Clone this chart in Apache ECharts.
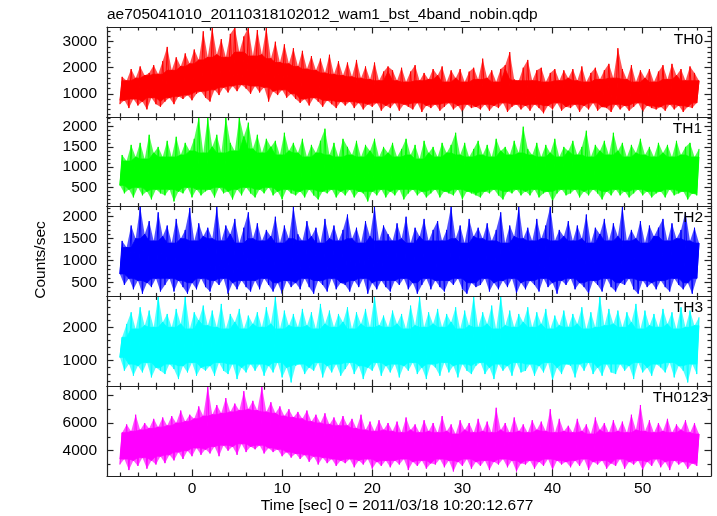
<!DOCTYPE html>
<html>
<head>
<meta charset="utf-8">
<script src="https://cdn.jsdelivr.net/npm/echarts@6/dist/echarts.min.js"></script>
<style>html,body{margin:0;padding:0;background:#fff}#c{width:717px;height:516px}</style>
</head>
<body>
<div id="c"></div>
<script>
// ---- data (per 0.5 s bin: low and high excursions) ----
const binStart = -8;      // seconds, first bin
const binStep = 0.5;      // seconds per bin
const panelNames = ['TH0', 'TH1', 'TH2', 'TH3', 'TH0123'];
const xMajorTicks = [0, 10, 20, 30, 40, 50];
const xMinorTicks = [-8, -6, -4, -2, 2, 4, 6, 8, 12, 14, 16, 18, 22, 24, 26, 28, 32, 34, 36, 38, 42, 44, 46, 48, 52, 54, 56];

const th0Hi = [1650,1500,1950,1600,2050,1700,1800,2100,1750,2250,
  2800,1900,2400,2050,2550,2150,2700,2300,3400,2400,
  3550,2500,3100,2400,3300,3550,2600,3200,3550,2450,
  3450,2500,3550,2350,3000,2200,2900,2150,2750,2050,
  2650,1950,2450,1900,2350,1800,2500,1750,2250,1700,
  2200,1650,2300,1600,2050,1550,2200,1500,1850,2050,
  1900,1500,2000,1450,1850,2100,1500,1800,1550,1950,
  1700,2050,1450,1900,1600,1950,1450,1850,2000,1550,
  2350,1600,1900,1450,1950,2100,2600,1550,1500,2000,
  2300,1500,1900,2000,1450,1800,1950,1500,1900,1600,
  1950,1500,2050,1450,1800,2000,1550,1900,2150,1600,
  2750,1950,1550,2100,1450,1900,1600,1950,1450,1850,
  2100,1550,2150,1700,1950,1500,2050,1800,1500];
const th0Lo = [600,750,450,800,550,700,400,850,600,500,
  700,850,600,900,800,950,750,1000,1100,850,
  700,1150,950,1250,1050,1300,1100,1350,1200,1000,
  1300,1050,1250,700,1100,950,1150,850,1000,800,
  650,800,550,850,700,500,750,600,450,700,
  550,700,450,650,400,600,500,650,350,550,
  450,650,350,600,500,400,650,300,550,450,
  600,350,500,650,400,550,300,600,450,500,
  400,600,350,550,450,650,300,500,600,400,
  550,350,600,450,250,550,400,650,350,500,
  450,600,300,550,400,650,350,500,450,300,
  600,400,550,350,500,650,300,550,450,400,
  500,350,600,400,550,300,500,450,650];

const th1Hi = [1300,1150,1550,1250,1600,1200,1800,1350,1500,1250,
  1650,1250,1750,1300,1600,1400,1700,2240,1350,2240,
  1500,1800,1350,2240,1600,1400,2240,1750,2100,1450,
  1800,1350,1700,1500,1650,1300,1850,1400,1600,1350,
  1700,1250,1550,1350,1650,1950,1300,1600,1250,1700,
  1500,1300,1650,1250,1550,1400,1700,1250,1500,1350,
  1600,1250,1450,1700,1300,1550,1200,1650,1350,1500,
  1250,1600,1350,1550,1850,1300,1600,1250,1450,1650,
  1300,1550,1250,1700,1400,1500,1300,1650,1350,2000,
  1450,1300,1600,1250,1550,1350,1700,1250,1500,1400,
  1650,1300,1500,1900,1250,1550,1400,1650,1300,1850,
  1400,1600,1250,1550,1350,1700,1300,1500,1250,1600,
  1350,1550,1250,1650,1300,1500,1600,1250,1450];
const th1Lo = [550,350,450,250,500,300,400,200,450,350,
  300,450,150,400,350,500,250,450,300,400,
  450,250,500,350,400,200,450,300,500,350,
  250,450,350,500,300,400,200,450,350,300,
  400,250,450,300,200,400,350,450,250,400,
  300,450,250,400,350,150,400,300,450,250,
  400,300,450,200,350,450,300,400,250,350,
  450,250,400,350,300,450,200,400,350,300,
  250,400,350,450,300,200,400,350,450,300,
  400,300,450,250,350,400,150,350,450,300,
  350,450,250,400,300,450,350,200,400,300,
  450,300,400,250,350,450,300,400,250,350,
  400,250,450,300,350,400,200,350,300];

const th2Hi = [1450,1300,1800,1500,2230,1600,1900,1450,2100,1550,
  1800,1400,1950,1500,1700,2200,1450,1850,1550,1750,
  1500,2230,1450,1800,1600,1950,1400,1750,2100,1500,
  1850,1450,1700,1550,2000,1400,1800,1500,2230,1600,
  1450,1900,1550,1750,1400,1950,1500,1800,1450,1700,
  2050,1500,1750,1400,1900,1550,2230,1450,1800,1600,
  1450,1850,1500,2000,1400,1750,1550,1950,1450,1700,
  1900,1450,1700,2230,1500,1800,1400,1950,1550,1750,
  1500,1850,1450,1700,2100,1400,1800,1550,2230,1500,
  1750,1450,1950,1500,1800,2230,1450,1700,1550,1900,
  1450,1800,1500,2050,1400,1750,1600,1950,1450,1850,
  1550,2230,1450,1700,1500,1900,1400,1800,1550,1750,
  1950,1450,1850,1500,1700,2100,1450,1750,1400];
const th2Lo = [700,450,600,350,550,250,500,400,600,300,
  450,600,300,550,400,250,500,350,600,400,
  300,550,450,600,250,500,350,550,400,300,
  550,350,600,450,300,500,250,550,400,500,
  350,600,400,250,550,450,300,600,350,500,
  450,300,550,400,600,250,500,350,550,400,
  300,550,450,600,350,500,250,450,600,350,
  550,400,300,550,450,600,350,250,500,400,
  450,600,300,500,350,550,400,600,250,500,
  350,550,450,300,600,400,500,250,550,450,
  600,350,500,400,250,550,450,300,600,400,
  300,500,450,600,350,250,550,400,500,350,
  550,400,300,600,450,350,500,250,600];

const th3Hi = [1700,2100,2450,1950,2600,2050,2500,2000,2940,2150,
  2400,2000,2550,2100,2940,1950,2450,2200,2650,2050,
  2500,2000,2700,1950,2400,2150,2550,1950,2350,2100,
  2450,2000,2600,2100,2940,1950,2500,2050,2400,2000,
  2550,2050,2450,1950,2700,2100,2500,2000,2400,2150,
  2600,1950,2450,2100,2550,2000,2940,2050,2350,2000,
  2500,2100,2400,1950,2650,2050,2940,2000,2450,2100,
  2550,2000,2400,2150,2600,1950,2500,2050,2940,2000,
  2450,2100,2650,1950,2940,2050,2500,2000,2400,2150,
  2600,2000,2450,2100,2550,1950,2350,2050,2500,2000,
  2400,2100,2600,1950,2450,2000,2940,2050,2550,2100,
  2500,2000,2450,2150,2700,1950,2500,2050,2400,2000,
  2550,2100,2450,1950,2600,2000,2500,2050,2300];
const th3Lo = [1100,700,900,550,850,650,950,500,800,700,
  600,900,750,450,850,650,950,550,800,700,
  850,550,950,700,600,900,450,800,650,900,
  700,900,550,850,650,950,500,800,350,850,
  900,600,800,700,950,500,850,650,900,550,
  750,950,600,850,450,800,700,950,550,850,
  650,900,500,850,700,950,600,800,450,900,
  800,550,950,650,850,500,900,700,600,850,
  950,600,800,450,900,700,850,550,950,650,
  700,900,550,850,650,950,400,800,600,900,
  850,500,900,700,950,600,800,550,900,650,
  600,900,700,850,450,950,650,800,550,900,
  800,650,950,500,850,700,350,900,600];

const th0123Hi = [5300,5900,5400,6600,5500,6000,5600,6300,5700,6400,
  5800,6500,6000,6900,6100,6600,6300,7200,6500,8670,
  6600,7300,6700,7800,6800,7400,6900,8300,7000,7600,
  6900,8670,6800,7500,6700,7200,6500,7000,6400,6800,
  6300,6900,6100,6600,6000,6700,5900,6400,5800,6500,
  5800,6300,5600,6600,5500,6100,5400,6200,5500,6000,
  5400,6100,5300,6400,5500,5900,5300,6200,5400,6000,
  5300,6500,5400,5900,5200,6200,5500,6000,5300,6300,
  5400,6100,5300,7100,5500,6000,5300,6400,5400,5900,
  5300,6200,5500,6100,5400,7000,5300,6300,5400,5800,
  5300,6300,5400,5900,5200,6400,5500,6000,5300,6200,
  5400,6100,5300,6600,5500,7300,5400,6200,5300,6000,
  5400,6300,5300,5900,5500,6200,5300,6000,5200];
const th0123Lo = [3000,3400,2600,3300,2900,3500,2700,3300,3000,3600,
  3100,3700,3300,3900,3400,4000,3600,4200,3700,4100,
  3800,4300,3600,4400,4000,4300,3700,4500,3900,4300,
  4100,4400,3800,4200,3900,4100,3600,3900,3500,3800,
  3400,3700,3200,3600,3000,3500,3100,3400,2900,3300,
  3100,3400,2800,3300,3000,3400,2700,3200,2900,3300,
  2800,3300,3000,3400,2600,3200,2900,3300,2700,3100,
  3000,3400,2800,3300,2500,3200,2900,3400,2700,3200,
  2900,3300,2600,3200,3000,3400,2800,3300,2500,3100,
  3000,3300,2700,3200,2900,3400,2600,3300,3000,3200,
  2800,3300,2900,3400,2600,3200,3000,3300,2700,3100,
  2900,3400,2700,3200,3000,3300,2600,3200,2900,3400,
  2800,3200,2600,3300,3000,3200,2700,3100,2900];

// tick values per panel
const yMajor = [[1000,2000,3000],[500,1000,1500,2000],[500,1000,1500,2000],[1000,2000],[4000,6000,8000]];
const yMinor = [
  [200,400,600,800,1200,1400,1600,1800,2200,2400,2600,2800,3200,3400],
  [100,200,300,400,600,700,800,900,1100,1200,1300,1400,1600,1700,1800,1900,2100,2200],
  [300,400,600,700,800,900,1100,1200,1300,1400,1600,1700,1800,1900,2100,2200],
  [400,600,800,1200,1400,1600,1800,2200,2400,2600,2800],
  [3000,5000,7000]
];
const yRange = [[115,3565],[22,2245],[189,2230],[237,2925],[2173,8657]];

// ---- layout / style ----
const FONT = '"Liberation Sans", Arial, Helvetica, sans-serif';
const colors = ['#ff0000', '#00ff00', '#0000ff', '#00ffff', '#ff00ff'];
const xMin = -9.43, xMax = 57.58;
const gridLeft = 107, gridWidth = 604, gridTop0 = 27, gridH = 89.8;
const frame = { color: '#222', width: 1.2 };
const seriesHi = [th0Hi, th1Hi, th2Hi, th3Hi, th0123Hi];
const seriesLo = [th0Lo, th1Lo, th2Lo, th3Lo, th0123Lo];
const fmt = v => String(v);

const grids = [], xAxes = [], yAxes = [], series = [];
for (let i = 0; i < 5; i++) {
  grids.push({ left: gridLeft, top: gridTop0 + i * gridH, width: gridWidth, height: gridH, containLabel: false });
  const xBase = { gridIndex: i, type: 'value', min: xMin, max: xMax, splitLine: { show: false }, z: 10 };
  [['bottom', xMajorTicks, 6.5, true], ['bottom', xMinorTicks, 3.5, false], ['top', xMajorTicks, 6.5, true], ['top', xMinorTicks, 3.5, false]].forEach(([pos, vals, len, line], k) => {
    const showLab = (i === 4 && k === 0);
    xAxes.push(Object.assign({}, xBase, {
      position: pos, offset: 0,
      axisLine: { show: line, onZero: false, lineStyle: frame },
      axisTick: { show: true, inside: true, length: len, customValues: vals, lineStyle: frame },
      axisLabel: showLab ? { show: true, customValues: xMajorTicks, formatter: fmt, margin: 5, fontSize: 15.5, color: '#000', fontFamily: FONT } : { show: false }
    }));
  });
  const yBase = { gridIndex: i, type: 'value', min: yRange[i][0], max: yRange[i][1], splitLine: { show: false }, z: 10 };
  [['left', yMajor[i], 6.5, true], ['left', yMinor[i], 3.5, false], ['right', yMajor[i], 6.5, true], ['right', yMinor[i], 3.5, false]].forEach(([pos, vals, len, line], k) => {
    yAxes.push(Object.assign({}, yBase, {
      position: pos, offset: 0,
      axisLine: { show: line, onZero: false, lineStyle: frame },
      axisTick: { show: true, inside: true, length: len, customValues: vals, lineStyle: frame },
      axisLabel: k === 0 ? { show: true, customValues: yMajor[i], formatter: fmt, margin: 10, fontSize: 15.5, color: '#000', fontFamily: FONT } : { show: false }
    }));
  });
  const hi = seriesHi[i], lo = seriesLo[i];
  const N = hi.length;
  // one data item per bin: [time of low, low, time of high, high]
  const bins = hi.map((h, k) => {
    const t = binStart + k * binStep;
    return [t, lo[k], t + binStep / 2, h];
  });
  // solid core of the band: the region every neighbouring excursion covers
  const coreTop = hi.map((h, k) => Math.min(h, hi[Math.max(k - 1, 0)], hi[Math.min(k + 1, N - 1)]));
  const coreBot = lo.map((l, k) => Math.max(l, lo[Math.max(k - 1, 0)], lo[Math.min(k + 1, N - 1)]));
  const col = colors[i];
  series.push({
    type: 'custom', xAxisIndex: i * 4, yAxisIndex: i * 4, data: bins,
    animation: false, silent: true, clip: true,
    encode: { x: [0, 2], y: [1, 3] },
    renderItem: function (params, api) {
      const k = params.dataIndex;
      const cur = bins[k];
      const cs = params.coordSys;
      const children = [];
      const pLo = api.coord([cur[0], cur[1]]);
      const pHi = api.coord([cur[2], cur[3]]);
      if (k < N - 1) {
        const nxt = bins[k + 1];
        const qLo = api.coord([nxt[0], nxt[1]]);
        const qHi = api.coord([nxt[2], nxt[3]]);
        // full excursion envelope, light (antialiased-looking fringe)
        children.push({ type: 'polygon', shape: { points: [pLo, pHi, qHi, qLo] },
          style: { fill: col, opacity: 0.68 } });
        // solid core
        children.push({ type: 'polygon', shape: { points: [
            api.coord([cur[2], coreTop[k]]), api.coord([nxt[2], coreTop[k + 1]]),
            api.coord([nxt[0], coreBot[k + 1]]), api.coord([cur[0], coreBot[k]])] },
          style: { fill: col, stroke: col, lineWidth: 0.8 } });
        children.push({ type: 'polyline', shape: { points: [pLo, pHi, qLo] },
          style: { stroke: col, lineWidth: 1, fill: null } });
      } else {
        children.push({ type: 'line', shape: { x1: pLo[0], y1: pLo[1], x2: pHi[0], y2: pHi[1] },
          style: { stroke: col, lineWidth: 1 } });
      }
      return { type: 'group', children: children,
        clipPath: { type: 'rect', shape: { x: cs.x, y: cs.y, width: cs.width, height: cs.height } } };
    }
  });
}

const labelPos = [[703, 40], [702, 128.5], [703, 217.5], [703, 307.5], [708, 397.5]];
const txt = (s, x, y, align, extra) => Object.assign({
  type: 'text', x: x, y: y, silent: true, z: 20,
  style: { text: s, fill: '#000', font: '15.5px ' + FONT, textAlign: align, textVerticalAlign: 'middle' }
}, extra || {});
const graphics = [
  txt('ae705041010_20110318102012_wam1_bst_4band_nobin.qdp', 107, 14.5, 'left'),
  txt('Time [sec] 0 = 2011/03/18 10:20:12.677', 397, 506, 'center'),
  txt('Counts/sec', 41, 260, 'center', { rotation: Math.PI / 2 })
];
panelNames.forEach((n, i) => graphics.push(txt(n, labelPos[i][0], labelPos[i][1], 'right')));

const chart = echarts.init(document.getElementById('c'), null, { renderer: 'canvas' });
chart.setOption({
  animation: false,
  backgroundColor: '#fff',
  grid: grids, xAxis: xAxes, yAxis: yAxes, series: series,
  graphic: graphics
});
</script>
</body>
</html>
